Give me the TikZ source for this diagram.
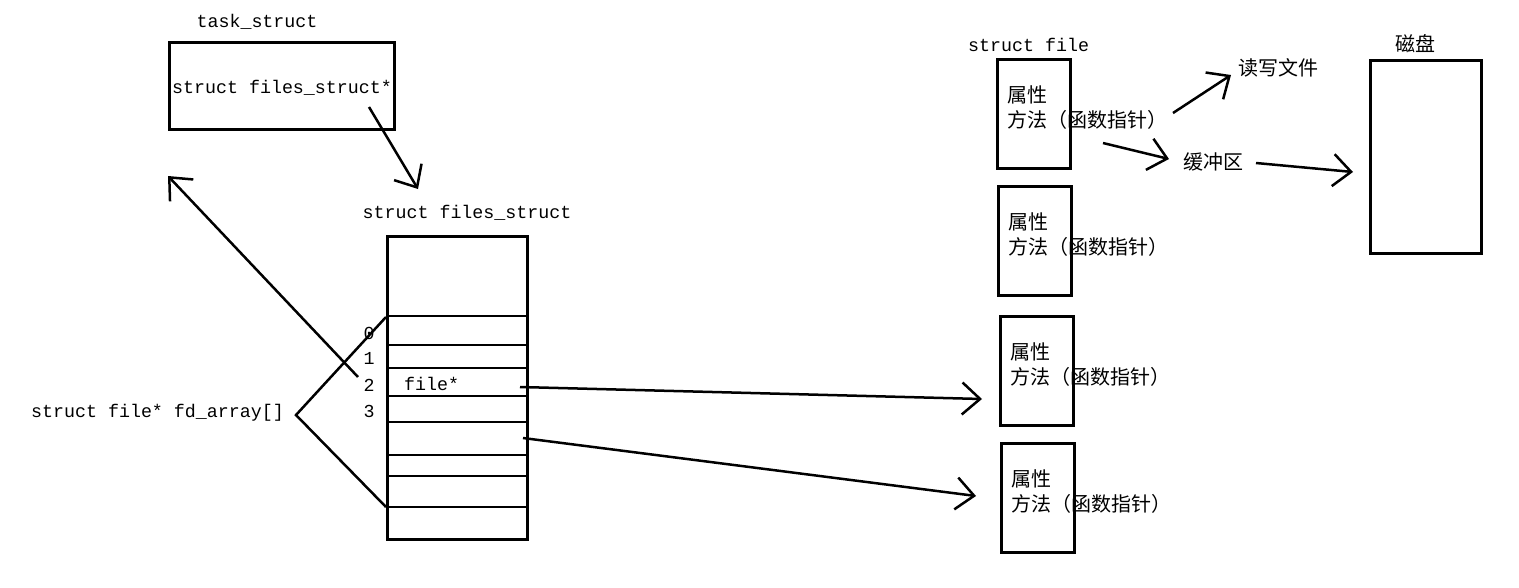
\documentclass[tikz,border=0pt]{standalone}
\usepackage{fontspec}
\setmonofont{Liberation Mono}
\newfontfamily\cjk{Noto Sans CJK SC}
\usetikzlibrary{arrows.meta}

\tikzset{
	box/.style={draw, line width=2.8pt, inner sep=0pt, anchor=north west},
	code/.style={font=\ttfamily\fontsize{18.3}{18.3}\selectfont, inner sep=0pt},
	zh/.style={font=\cjk\fontsize{20}{20}\selectfont, inner sep=0pt},
	ptr/.style={line width=2.5pt, -{Straight Barb[length=18pt,width=32pt]}},
	rowline/.style={line width=2.5pt},
}

\begin{document}
\begin{tikzpicture}[x=1pt,y=-1pt]
	\useasboundingbox (0,0) rectangle (1519,587);
	% task_struct
	\node[code] (tasklbl) at (257,22) {task\_struct};
	\node[box, minimum width=225pt, minimum height=87pt] (task) at (168,41) {};
	\node[code, anchor=west] (fsptr) at (172,88) {struct files\_struct*};
	
	% files_struct with fd_array
	\node[code] (fslbl) at (467,213) {struct files\_struct};
	\node[box, minimum width=140pt, minimum height=303pt] (fs) at (386,235) {};
	\foreach \y in {316,345,368,396,422,455,476,507}
		\draw[rowline] (fs.west |- 0,\y) -- (fs.east |- 0,\y);
	\foreach \i/\y in {0/333,1/358,2/385,3/411}
		\node[code] (idx\i) at (369,\y) {\i};
	\node[code, anchor=west] (fileptr) at (404,384) {file*};
	\node[code, anchor=east] (fdarr) at (284,413) {struct file* fd\_array[]};
	\coordinate (brtop) at (386,317);
	\coordinate (brtip) at (296,415);
	\coordinate (brbot) at (386,507);
	\draw[rowline] (brtop) -- (brtip) -- (brbot);
	
	% struct file objects
	\node[code, anchor=west] (filelbl) at (968,45) {struct file};
	\foreach \n/\x/\y in {1/996/58,2/997/185,3/999/315,4/1000/442}{
		\node[zh, anchor=west] (attr\n) at (\x+11,\y+37) {属性};
		\node[zh, anchor=west] (meth\n) at (\x+11,\y+62) {方法（函数指针）};
		\node[box, minimum width=73pt, minimum height=109pt] (file\n) at (\x,\y) {};
	}
	
	% read/write, buffer, disk
	\node[zh, anchor=west] (rw) at (1238,68) {读写文件};
	\node[zh, anchor=west] (buf) at (1183,162) {缓冲区};
	\node[zh] (disklbl) at (1415,44) {磁盘};
	\node[box, minimum width=111pt, minimum height=193pt] (disk) at (1369,59) {};
	
	% pointers
	\coordinate (a1s) at (369,107);   \coordinate (a1e) at (418,189);
	\coordinate (a2s) at (358,377);   \coordinate (a2e) at (168,176);
	\coordinate (a3s) at (520,387);   \coordinate (a3e) at (982,399);
	\coordinate (a4s) at (523,438);   \coordinate (a4e) at (976,496);
	\coordinate (a5s) at (1173,113);  \coordinate (a5e) at (1231,75);
	\coordinate (a6s) at (1103,143);  \coordinate (a6e) at (1169,159);
	\coordinate (a7s) at (1256,163);  \coordinate (a7e) at (1353,172);
	\foreach \k in {1,...,7}
		\draw[ptr] (a\k s) -- (a\k e);
\end{tikzpicture}
\end{document}
